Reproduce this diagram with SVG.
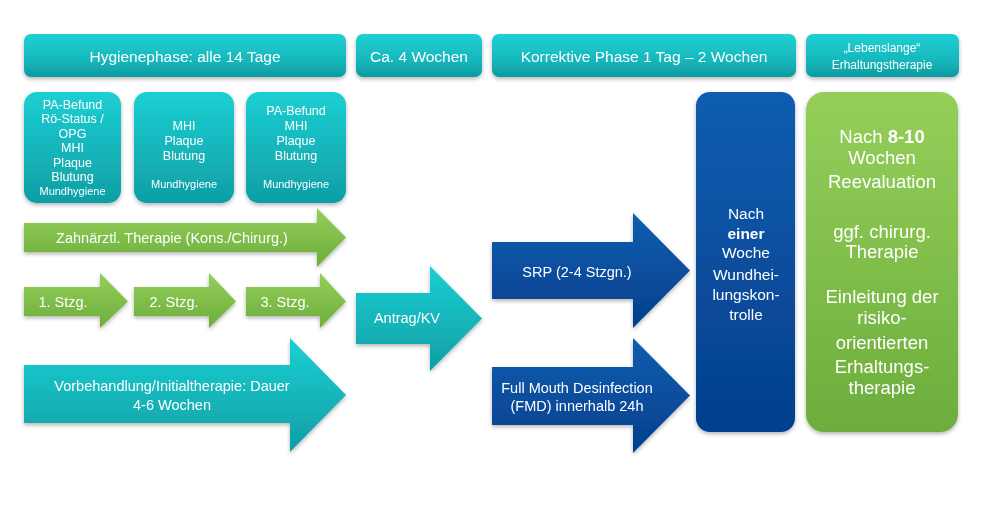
<svg xmlns="http://www.w3.org/2000/svg" width="1000" height="505" viewBox="0 0 1000 505">
<defs>
<linearGradient id="gTeal" x1="0" y1="0" x2="0" y2="1">
<stop offset="0" stop-color="#1ccfd2"/><stop offset="1" stop-color="#0f9ea5"/>
</linearGradient>
<linearGradient id="gTealH" x1="0" y1="0" x2="0" y2="1">
<stop offset="0" stop-color="#1fd0d3"/><stop offset="0.6" stop-color="#17b8bd"/><stop offset="1" stop-color="#0e9aa1"/>
</linearGradient>
<linearGradient id="gGreen" x1="0" y1="0" x2="0" y2="1">
<stop offset="0" stop-color="#95cf5a"/><stop offset="1" stop-color="#6cad3c"/>
</linearGradient>
<linearGradient id="gBlue" x1="0" y1="0" x2="0" y2="1">
<stop offset="0" stop-color="#0b5db0"/><stop offset="1" stop-color="#053f8c"/>
</linearGradient>
<filter id="sh" x="-20%" y="-20%" width="140%" height="140%">
<feGaussianBlur in="SourceAlpha" stdDeviation="2"/>
<feOffset dx="0" dy="2" result="b"/>
<feComponentTransfer><feFuncA type="linear" slope="0.3"/></feComponentTransfer>
<feMerge><feMergeNode/><feMergeNode in="SourceGraphic"/></feMerge>
</filter>
<style>
text{font-family:"Liberation Sans",Arial,sans-serif;fill:#fff;text-anchor:middle}
.h{font-size:15.5px}
.hs{font-size:12px}
.s{font-size:12.5px}
.m{font-size:11px}
.a{font-size:14.5px}
.b{font-size:15.5px}
.g{font-size:18.5px}
.bo{font-weight:bold}
</style>
</defs>

<g id="header-hygiene" filter="url(#sh)">
<rect x="24" y="34" width="322" height="43" rx="7" fill="url(#gTealH)"/>
<text class="h" x="185" y="62">Hygienephase: alle 14 Tage</text>
</g>
<g id="header-4wochen" filter="url(#sh)">
<rect x="356" y="34" width="126" height="43" rx="7" fill="url(#gTealH)"/>
<text class="h" x="419" y="62">Ca. 4 Wochen</text>
</g>
<g id="header-korrektiv" filter="url(#sh)">
<rect x="492" y="34" width="304" height="43" rx="7" fill="url(#gTealH)"/>
<text class="h" x="644" y="62">Korrektive Phase 1 Tag – 2 Wochen</text>
</g>
<g id="header-erhaltung" filter="url(#sh)">
<rect x="806" y="34" width="153" height="43" rx="7" fill="url(#gTealH)"/>
<text class="hs" x="882" y="52">„Lebenslange“</text>
<text class="hs" x="882" y="69">Erhaltungstherapie</text>
</g>

<g id="box-1" filter="url(#sh)">
<rect x="24" y="92" width="97" height="111" rx="13" fill="url(#gTeal)"/>
<text class="s" x="72.5" y="109">PA-Befund</text>
<text class="s" x="72.5" y="123">Rö-Status /</text>
<text class="s" x="72.5" y="138">OPG</text>
<text class="s" x="72.5" y="152">MHI</text>
<text class="s" x="72.5" y="167">Plaque</text>
<text class="s" x="72.5" y="181">Blutung</text>
<text class="m" x="72.5" y="195">Mundhygiene</text>
</g>
<g id="box-2" filter="url(#sh)">
<rect x="134" y="92" width="100" height="111" rx="13" fill="url(#gTeal)"/>
<text class="s" x="184" y="130">MHI</text>
<text class="s" x="184" y="145">Plaque</text>
<text class="s" x="184" y="160">Blutung</text>
<text class="m" x="184" y="188">Mundhygiene</text>
</g>
<g id="box-3" filter="url(#sh)">
<rect x="246" y="92" width="100" height="111" rx="13" fill="url(#gTeal)"/>
<text class="s" x="296" y="115">PA-Befund</text>
<text class="s" x="296" y="130">MHI</text>
<text class="s" x="296" y="145">Plaque</text>
<text class="s" x="296" y="160">Blutung</text>
<text class="m" x="296" y="188">Mundhygiene</text>
</g>

<g id="arrow-zahnaerztl" filter="url(#sh)">
<polygon points="24,223 317,223 317,208 346,237.5 317,267 317,252 24,252" fill="url(#gGreen)"/>
<text class="a" x="172" y="243">Zahnärztl. Therapie (Kons./Chirurg.)</text>
</g>
<g id="arrow-stzg1" filter="url(#sh)">
<polygon points="24,287 100,287 100,273 128,301.5 100,328 100,316 24,316" fill="url(#gGreen)"/>
<text class="a" x="63" y="307">1. Stzg.</text>
</g>
<g id="arrow-stzg2" filter="url(#sh)">
<polygon points="134,287 209,287 209,273 236,301.5 209,328 209,316 134,316" fill="url(#gGreen)"/>
<text class="a" x="174" y="307">2. Stzg.</text>
</g>
<g id="arrow-stzg3" filter="url(#sh)">
<polygon points="246,287 320,287 320,273 346,301.5 320,328 320,316 246,316" fill="url(#gGreen)"/>
<text class="a" x="285" y="307">3. Stzg.</text>
</g>
<g id="arrow-vorbehandlung" filter="url(#sh)">
<polygon points="24,365 290,365 290,338 346,395 290,452 290,423 24,423" fill="url(#gTeal)"/>
<text class="a" x="172" y="391">Vorbehandlung/Initialtherapie: Dauer</text>
<text class="a" x="172" y="410">4-6 Wochen</text>
</g>
<g id="arrow-antrag" filter="url(#sh)">
<polygon points="356,293 430,293 430,266 482,318.5 430,371 430,344 356,344" fill="url(#gTeal)"/>
<text class="a" x="407" y="323">Antrag/KV</text>
</g>
<g id="arrow-srp" filter="url(#sh)">
<polygon points="492,242 633,242 633,213 690,270.5 633,328 633,299 492,299" fill="url(#gBlue)"/>
<text class="a" x="577" y="277">SRP (2-4 Stzgn.)</text>
</g>
<g id="arrow-fmd" filter="url(#sh)">
<polygon points="492,367 633,367 633,338 690,395.5 633,453 633,425 492,425" fill="url(#gBlue)"/>
<text class="a" x="577" y="393">Full Mouth Desinfection</text>
<text class="a" x="577" y="411">(FMD) innerhalb 24h</text>
</g>

<g id="box-wundheilung" filter="url(#sh)">
<rect x="696" y="92" width="99" height="340" rx="14" fill="url(#gBlue)"/>
<text class="b" x="746" y="219">Nach</text>
<text class="b bo" x="746" y="239">einer</text>
<text class="b" x="746" y="258">Woche</text>
<text class="b" x="746" y="280">Wundhei-</text>
<text class="b" x="746" y="300">lungskon-</text>
<text class="b" x="746" y="320">trolle</text>
</g>
<g id="box-reevaluation" filter="url(#sh)">
<rect x="806" y="92" width="152" height="340" rx="18" fill="url(#gGreen)"/>
<text class="g" x="882" y="143">Nach <tspan class="bo">8-10</tspan></text>
<text class="g" x="882" y="164">Wochen</text>
<text class="g" x="882" y="188">Reevaluation</text>
<text class="g" x="882" y="238">ggf. chirurg.</text>
<text class="g" x="882" y="258">Therapie</text>
<text class="g" x="882" y="303">Einleitung der</text>
<text class="g" x="882" y="324">risiko-</text>
<text class="g" x="882" y="349">orientierten</text>
<text class="g" x="882" y="373">Erhaltungs-</text>
<text class="g" x="882" y="394">therapie</text>
</g>

<g id="connectors"></g>
</svg>
